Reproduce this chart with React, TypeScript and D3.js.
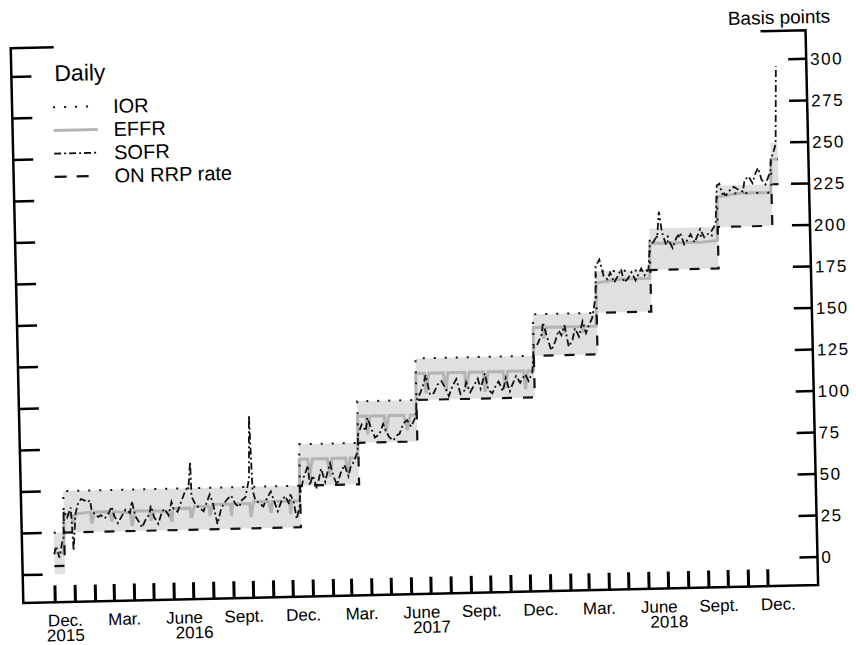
import * as d3 from "d3"
import { useRef, useEffect } from "react"

// policy rates, step changes (basis points)
const policyDates = ["2015-12-01", "2015-12-17", "2016-12-15", "2017-03-16", "2017-06-15", "2017-12-14", "2018-03-22", "2018-06-14", "2018-09-27", "2018-12-20"]
const rangeLow = [0, 25, 50, 75, 100, 125, 150, 175, 200, 225]
const rangeHigh = [25, 50, 75, 100, 125, 150, 175, 200, 225, 250]
const iorRate = [25, 50, 75, 100, 125, 150, 175, 195, 220, 240]
const onrrpRate = [5, 25, 50, 75, 100, 125, 150, 175, 200, 225]
const lastDate = "2018-12-31"

const effr: [string, number][] = [
  ["2015-12-01", 13], ["2015-12-16", 13], ["2015-12-17", 36], ["2015-12-30", 35], ["2015-12-31", 30],
  ["2016-01-04", 36], ["2016-01-27", 37], ["2016-01-29", 30], ["2016-02-02", 37], ["2016-02-25", 37], ["2016-02-29", 31],
  ["2016-03-02", 37], ["2016-03-28", 36], ["2016-03-31", 28], ["2016-04-04", 37], ["2016-04-27", 37], ["2016-04-29", 31],
  ["2016-05-03", 37], ["2016-05-27", 36], ["2016-05-31", 30], ["2016-06-02", 38], ["2016-06-28", 38], ["2016-06-30", 32],
  ["2016-07-05", 39], ["2016-07-27", 39], ["2016-07-29", 33], ["2016-08-02", 40], ["2016-08-29", 40], ["2016-08-31", 33],
  ["2016-09-02", 40], ["2016-09-28", 40], ["2016-09-30", 32], ["2016-10-04", 41], ["2016-10-27", 41], ["2016-10-31", 34],
  ["2016-11-02", 41], ["2016-11-28", 41], ["2016-11-30", 33], ["2016-12-02", 41], ["2016-12-14", 41],
  ["2016-12-15", 66], ["2016-12-28", 66], ["2016-12-30", 55], ["2017-01-04", 66], ["2017-01-27", 66], ["2017-01-31", 55],
  ["2017-02-03", 66], ["2017-02-24", 66], ["2017-02-28", 56], ["2017-03-03", 66], ["2017-03-15", 66],
  ["2017-03-16", 91], ["2017-03-29", 91], ["2017-03-31", 80], ["2017-04-04", 91], ["2017-04-26", 91], ["2017-04-28", 81],
  ["2017-05-03", 91], ["2017-05-26", 91], ["2017-05-31", 82], ["2017-06-05", 91], ["2017-06-14", 91],
  ["2017-06-15", 116], ["2017-06-28", 116], ["2017-06-30", 104], ["2017-07-05", 116], ["2017-07-27", 116], ["2017-07-31", 105],
  ["2017-08-03", 116], ["2017-08-29", 116], ["2017-08-31", 106], ["2017-09-05", 116], ["2017-09-27", 116], ["2017-09-29", 104],
  ["2017-10-04", 116], ["2017-10-27", 116], ["2017-10-31", 106], ["2017-11-03", 116], ["2017-11-28", 116], ["2017-11-30", 105],
  ["2017-12-04", 116], ["2017-12-13", 116],
  ["2017-12-14", 142], ["2017-12-28", 142], ["2017-12-29", 135], ["2018-01-03", 142], ["2018-01-30", 142], ["2018-01-31", 138],
  ["2018-02-02", 142], ["2018-02-27", 142], ["2018-02-28", 138], ["2018-03-02", 142], ["2018-03-21", 142],
  ["2018-03-22", 168], ["2018-04-30", 170], ["2018-05-31", 170], ["2018-06-13", 170],
  ["2018-06-14", 191], ["2018-07-31", 191], ["2018-08-31", 191], ["2018-09-26", 192],
  ["2018-09-27", 218], ["2018-10-31", 220], ["2018-11-30", 220], ["2018-12-19", 220],
  ["2018-12-20", 240], ["2018-12-31", 240],
]

const sofr: [string, number][] = [
  ["2015-12-01", 12], ["2015-12-04", 17], ["2015-12-09", 10], ["2015-12-14", 20], ["2015-12-16", 22],
  ["2015-12-17", 38], ["2015-12-22", 34], ["2015-12-28", 40], ["2015-12-31", 14],
  ["2016-01-04", 36], ["2016-01-08", 42], ["2016-01-13", 45], ["2016-01-19", 44], ["2016-01-22", 43], ["2016-01-27", 44], ["2016-01-29", 38],
  ["2016-02-02", 36], ["2016-02-08", 34], ["2016-02-12", 35], ["2016-02-18", 33], ["2016-02-24", 36], ["2016-02-29", 40],
  ["2016-03-03", 35], ["2016-03-09", 30], ["2016-03-15", 34], ["2016-03-21", 38], ["2016-03-28", 36], ["2016-03-31", 43],
  ["2016-04-05", 34], ["2016-04-11", 30], ["2016-04-15", 27], ["2016-04-21", 32], ["2016-04-27", 35], ["2016-04-29", 40],
  ["2016-05-04", 33], ["2016-05-10", 29], ["2016-05-16", 36], ["2016-05-20", 38], ["2016-05-26", 34], ["2016-05-31", 42],
  ["2016-06-03", 38], ["2016-06-09", 36], ["2016-06-15", 42], ["2016-06-21", 48], ["2016-06-27", 52], ["2016-06-30", 66],
  ["2016-07-01", 45], ["2016-07-07", 40], ["2016-07-13", 38], ["2016-07-19", 36], ["2016-07-25", 42], ["2016-07-29", 46],
  ["2016-08-03", 40], ["2016-08-09", 28], ["2016-08-15", 37], ["2016-08-19", 40], ["2016-08-25", 43], ["2016-08-31", 45],
  ["2016-09-06", 40], ["2016-09-12", 38], ["2016-09-16", 42], ["2016-09-22", 44], ["2016-09-28", 55], ["2016-09-30", 93],
  ["2016-10-03", 48], ["2016-10-07", 42], ["2016-10-13", 40], ["2016-10-19", 38], ["2016-10-25", 43], ["2016-10-31", 47],
  ["2016-11-04", 42], ["2016-11-10", 35], ["2016-11-16", 41], ["2016-11-22", 44], ["2016-11-28", 39], ["2016-11-30", 45],
  ["2016-12-05", 40], ["2016-12-09", 30], ["2016-12-14", 38], ["2016-12-15", 45], ["2016-12-21", 55], ["2016-12-28", 62], ["2016-12-30", 50],
  ["2017-01-04", 56], ["2017-01-10", 48], ["2017-01-17", 60], ["2017-01-23", 52], ["2017-01-27", 58], ["2017-01-31", 63],
  ["2017-02-06", 54], ["2017-02-10", 50], ["2017-02-16", 57], ["2017-02-22", 62], ["2017-02-28", 55],
  ["2017-03-03", 60], ["2017-03-09", 64], ["2017-03-15", 70], ["2017-03-16", 80], ["2017-03-22", 86], ["2017-03-28", 82], ["2017-03-31", 90],
  ["2017-04-05", 84], ["2017-04-11", 78], ["2017-04-18", 80], ["2017-04-24", 86], ["2017-04-28", 82],
  ["2017-05-03", 78], ["2017-05-09", 76], ["2017-05-15", 79], ["2017-05-19", 80], ["2017-05-25", 86], ["2017-05-31", 88],
  ["2017-06-06", 84], ["2017-06-12", 89], ["2017-06-14", 92], ["2017-06-15", 100], ["2017-06-21", 104], ["2017-06-27", 110], ["2017-06-30", 115],
  ["2017-07-06", 103], ["2017-07-12", 104], ["2017-07-18", 109], ["2017-07-24", 111], ["2017-07-31", 106],
  ["2017-08-04", 102], ["2017-08-10", 108], ["2017-08-16", 112], ["2017-08-22", 103], ["2017-08-28", 105], ["2017-08-31", 110],
  ["2017-09-06", 104], ["2017-09-12", 108], ["2017-09-18", 112], ["2017-09-22", 106], ["2017-09-29", 115],
  ["2017-10-04", 105], ["2017-10-10", 103], ["2017-10-16", 108], ["2017-10-20", 110], ["2017-10-26", 104], ["2017-10-31", 112],
  ["2017-11-06", 104], ["2017-11-10", 108], ["2017-11-16", 113], ["2017-11-22", 109], ["2017-11-30", 114],
  ["2017-12-05", 110], ["2017-12-11", 115], ["2017-12-14", 130], ["2017-12-20", 132], ["2017-12-27", 138], ["2017-12-29", 145],
  ["2018-01-04", 136], ["2018-01-10", 128], ["2018-01-16", 133], ["2018-01-22", 140], ["2018-01-26", 137], ["2018-01-31", 143],
  ["2018-02-06", 130], ["2018-02-12", 134], ["2018-02-16", 141], ["2018-02-22", 136], ["2018-02-28", 145],
  ["2018-03-05", 138], ["2018-03-09", 142], ["2018-03-15", 147], ["2018-03-21", 160], ["2018-03-22", 178], ["2018-03-28", 182],
  ["2018-04-03", 172], ["2018-04-09", 170], ["2018-04-13", 174], ["2018-04-19", 168], ["2018-04-25", 172], ["2018-04-30", 176],
  ["2018-05-04", 168], ["2018-05-10", 170], ["2018-05-16", 174], ["2018-05-22", 169], ["2018-05-31", 176],
  ["2018-06-05", 172], ["2018-06-11", 175], ["2018-06-14", 190], ["2018-06-20", 192], ["2018-06-26", 196], ["2018-06-29", 210],
  ["2018-07-03", 198], ["2018-07-09", 190], ["2018-07-13", 193], ["2018-07-19", 188], ["2018-07-25", 194], ["2018-07-31", 197],
  ["2018-08-06", 190], ["2018-08-10", 192], ["2018-08-16", 196], ["2018-08-22", 191], ["2018-08-31", 199],
  ["2018-09-06", 194], ["2018-09-12", 196], ["2018-09-18", 198], ["2018-09-24", 202], ["2018-09-27", 225],
  ["2018-10-01", 226], ["2018-10-05", 220], ["2018-10-11", 219], ["2018-10-17", 222], ["2018-10-23", 224], ["2018-10-31", 222],
  ["2018-11-06", 221], ["2018-11-09", 228], ["2018-11-15", 230], ["2018-11-21", 226], ["2018-11-26", 232], ["2018-11-30", 235],
  ["2018-12-05", 228], ["2018-12-11", 225], ["2018-12-17", 231], ["2018-12-19", 233], ["2018-12-20", 240], ["2018-12-24", 244],
  ["2018-12-27", 248], ["2018-12-28", 250], ["2018-12-31", 296],
]

const yTicks = [0, 25, 50, 75, 100, 125, 150, 175, 200, 225, 250, 275, 300]
const monthNames: { [m: number]: string } = { 11: "Dec.", 2: "Mar.", 5: "June", 8: "Sept." }
const yearLabels: [string, string][] = [["2015", "2015-12-16"], ["2016", "2016-07-01"], ["2017", "2017-07-01"], ["2018", "2018-07-01"]]
const legendItems = ["IOR", "EFFR", "SOFR", "ON RRP rate"]

export default function App() {
  const ref = useRef<SVGSVGElement>(null)

  useEffect(() => {
    const width = 856
    const height = 645
    const left = 17
    const right = 812
    const top = 39
    const bottom = 594
    const font = "'Liberation Sans', Arial, Helvetica, sans-serif"
    const parse = d3.timeParse("%Y-%m-%d")

    const x = d3.scaleTime()
      .domain([new Date(2015, 11, 1), new Date(2018, 11, 1)])
      .range([49, 762])
    const y = d3.scaleLinear()
      .domain([0, 300])
      .range([566, 67.7])

    const svgElement = d3.select(ref.current)
    svgElement.selectAll("*").remove()
    svgElement.attr("width", width).attr("height", height)

    // the scanned original sits slightly tilted
    const g = svgElement.append("g")
      .attr("transform", "rotate(-1.3,420,320)")

    const steps = policyDates.map((d, i) => ({
      date: parse(d) as Date, lo: rangeLow[i], hi: rangeHigh[i], ior: iorRate[i], rrp: onrrpRate[i],
    }))
    const lastStep = steps[steps.length - 1]
    steps.push({ ...lastStep, date: parse(lastDate) as Date })

    g.append("path")
      .datum(steps)
      .attr("fill", "#e0e0e0")
      .attr("d", d3.area<any>().curve(d3.curveStepAfter)
        .x(d => x(d.date)).y0(d => y(d.lo)).y1(d => y(d.hi)))

    g.append("path")
      .datum(effr)
      .attr("fill", "none")
      .attr("stroke", "#b4b4b4")
      .attr("stroke-width", 3)
      .attr("d", d3.line<[string, number]>()
        .x(d => x(parse(d[0]) as Date)).y(d => y(d[1])))

    g.append("path")
      .datum(steps)
      .attr("fill", "none")
      .attr("stroke", "#111")
      .attr("stroke-width", 2)
      .attr("stroke-dasharray", "2,9")
      .attr("d", d3.line<any>().curve(d3.curveStepAfter)
        .x(d => x(d.date)).y(d => y(d.ior)))

    g.append("path")
      .datum(steps)
      .attr("fill", "none")
      .attr("stroke", "#111")
      .attr("stroke-width", 2.2)
      .attr("stroke-dasharray", "10,11")
      .attr("d", d3.line<any>().curve(d3.curveStepAfter)
        .x(d => x(d.date)).y(d => y(d.rrp)))

    g.append("path")
      .datum(sofr)
      .attr("fill", "none")
      .attr("stroke", "#111")
      .attr("stroke-width", 1.8)
      .attr("stroke-dasharray", "7,3,2,3")
      .attr("d", d3.line<[string, number]>()
        .x(d => x(parse(d[0]) as Date)).y(d => y(d[1])))

    // frame
    const frame = g.append("g").attr("stroke", "#000").attr("stroke-width", 2.5).attr("fill", "none")
    frame.append("path").attr("d", `M${left + 43},${top}H${left}V${bottom}H${right}V${top}H${right - 45}`)

    frame.selectAll(".lt").data(yTicks).join("line")
      .attr("x1", left).attr("x2", left + 20)
      .attr("y1", d => y(d)).attr("y2", d => y(d))
    frame.selectAll(".rt").data(yTicks).join("line")
      .attr("x1", right - 18).attr("x2", right)
      .attr("y1", d => y(d)).attr("y2", d => y(d))

    g.append("g")
      .attr("font-family", font).attr("font-size", 17).attr("letter-spacing", 1.5)
      .selectAll("text").data(yTicks).join("text")
      .attr("x", right + 4).attr("y", d => y(d)).attr("dy", "0.36em")
      .text(d => d)

    // month ticks
    const months = d3.timeMonth.range(new Date(2015, 11, 1), new Date(2019, 0, 1))
    g.append("g").attr("stroke", "#000").attr("stroke-width", 3)
      .selectAll("line").data(months).join("line")
      .attr("x1", d => x(d)).attr("x2", d => x(d))
      .attr("y1", bottom).attr("y2", bottom - 17)

    const labelled = months.filter(d => monthNames[d.getMonth()] !== undefined)
    g.append("g")
      .attr("font-family", font).attr("font-size", 17).attr("text-anchor", "middle")
      .selectAll("text").data(labelled).join("text")
      .attr("x", d => x(d3.timeDay.offset(d, 15)))
      .attr("y", 618)
      .text(d => monthNames[d.getMonth()])

    g.append("g")
      .attr("font-family", font).attr("font-size", 17).attr("text-anchor", "middle")
      .selectAll("text").data(yearLabels).join("text")
      .attr("x", d => x(parse(d[1]) as Date))
      .attr("y", 633)
      .text(d => d[0])

    g.append("text")
      .attr("font-family", font).attr("font-size", 19).attr("text-anchor", "end")
      .attr("x", 837).attr("y", 32)
      .text("Basis points")

    // legend
    const legend = g.append("g").attr("font-family", font)
    legend.append("text").attr("x", 60).attr("y", 73).attr("font-size", 23).text("Daily")
    const styles = [
      { stroke: "#111", width: 2, dash: "2,9" },
      { stroke: "#b4b4b4", width: 3, dash: null },
      { stroke: "#111", width: 1.8, dash: "7,3,2,3" },
      { stroke: "#111", width: 2.2, dash: "12,10" },
    ]
    legendItems.forEach((name, i) => {
      const by = 106 + i * 23.2
      legend.append("line")
        .attr("x1", 58).attr("x2", 102).attr("y1", by - 7).attr("y2", by - 7)
        .attr("stroke", styles[i].stroke).attr("stroke-width", styles[i].width)
        .attr("stroke-dasharray", styles[i].dash)
      legend.append("text").attr("x", 118).attr("y", by).attr("font-size", 20).text(name)
    })
  }, [])

  return (
    <svg ref={ref} style={{ position: "absolute", left: 0, top: 0 }}></svg>
  )
}
